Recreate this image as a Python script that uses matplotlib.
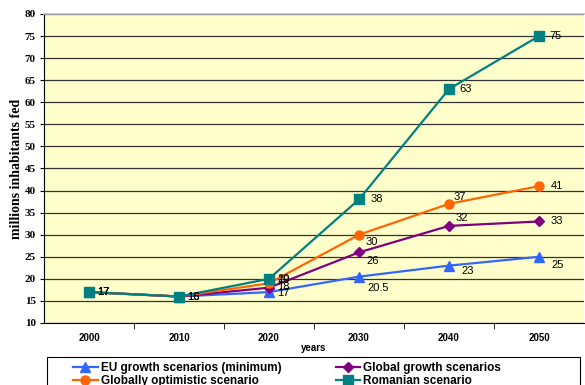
import matplotlib
matplotlib.use("Agg")
import matplotlib.pyplot as plt
from matplotlib.patches import Rectangle

years = ["2000", "2010", "2020", "2030", "2040", "2050"]
eu_min = [17, 16, 17, 20.5, 23, 25]
global_growth = [17, 16, 18, 26, 32, 33]
optimistic = [17, 16, 19, 30, 37, 41]
romanian = [17, 16, 20, 38, 63, 75]

names = ["EU growth scenarios (minimum)", "Global growth scenarios",
         "Globally optimistic scenario", "Romanian scenario"]
series = [eu_min, global_growth, optimistic, romanian]
colors = ["#3366FF", "#800080", "#FF6600", "#008080"]
markers = ["^", "D", "o", "s"]
msizes = [7, 5.5, 6.5, 6.5]
# label offsets in pixels (dx, dy) per point
offs = [
    [(8, 0), (8, 0), (8, -1), (8, -11), (12, -5), (12, -8)],
    [(8, 0), (8, 0), (8, 1), (7, -9), (7, 8), (12, 0)],
    [(8, 0), (8, 0), (8, 3), (7, -7), (5, 7), (12, 0)],
    [(8, 0), (8, 0), (8, 0), (12, 0), (10, 0), (10, 0)],
]

fig = plt.figure(figsize=(5.85, 3.85), dpi=100)
ax = fig.add_axes([44/585, 1-323/385, 540/585, 309/385])
ax.set_facecolor("#FFFFCC")
x = list(range(len(years)))

for vals, name, c, m, ms, off in zip(series, names, colors, markers, msizes, offs):
    ax.plot(x, vals, color=c, marker=m, markersize=ms, linewidth=1.6, label=name)
    for xi, v, (dx, dy) in zip(x, vals, off):
        ax.annotate(f"{v:g}", (xi, v), xytext=(dx, dy), textcoords="offset pixels",
                    ha="left", va="center", fontsize=8, family="Liberation Sans")

ax.set_xlim(-0.5, 5.5)
ax.set_ylim(10, 80)
ax.set_yticks(range(10, 81, 5))
ax.grid(axis="y", color="#333333", linewidth=0.9)
ax.set_axisbelow(True)
ax.set_xticks(x)
ax.set_xticklabels(years, fontsize=7, fontweight="bold", family="Liberation Sans")
ax.set_xticks([i + 0.5 for i in x[:-1]], minor=True)
ax.tick_params(axis="x", which="major", length=0, pad=7)
ax.tick_params(axis="x", which="minor", length=4, direction="out")
ax.tick_params(axis="y", length=3, pad=3)
for lab in ax.get_yticklabels():
    lab.set_fontfamily("Liberation Serif")
    lab.set_fontweight("bold")
    lab.set_fontsize(8)
ax.spines["right"].set_visible(False)
ax.spines["top"].set_color("#BBBBBB")
ax.spines["top"].set_linewidth(1.2)
ax.set_xlabel("years", fontsize=7, fontweight="bold", family="Liberation Sans", labelpad=0)
ax.set_ylabel("millions inhabitants fed", fontsize=10, fontweight="bold",
              family="Liberation Serif", labelpad=1)

# legend box (cut by the bottom edge like the original)
fig.patches.append(Rectangle((47/585, -0.1), 533/585, 0.1 + 1 - 357/385,
                             transform=fig.transFigure, facecolor="white",
                             edgecolor="black", linewidth=0.8, zorder=1))

handles, labels = ax.get_legend_handles_labels()
order = [0, 2, 1, 3]
leg = fig.legend([handles[i] for i in order], [labels[i] for i in order],
                 loc="upper left", bbox_to_anchor=(73/585, 1-362/385),
                 ncol=2, frameon=False,
                 prop={"family": "Liberation Sans", "weight": "bold", "size": 8.5},
                 handlelength=2.1, handletextpad=0.25, columnspacing=4.6,
                 labelspacing=0.1, borderpad=0, borderaxespad=0)

fig.savefig("out.png", dpi=100)
